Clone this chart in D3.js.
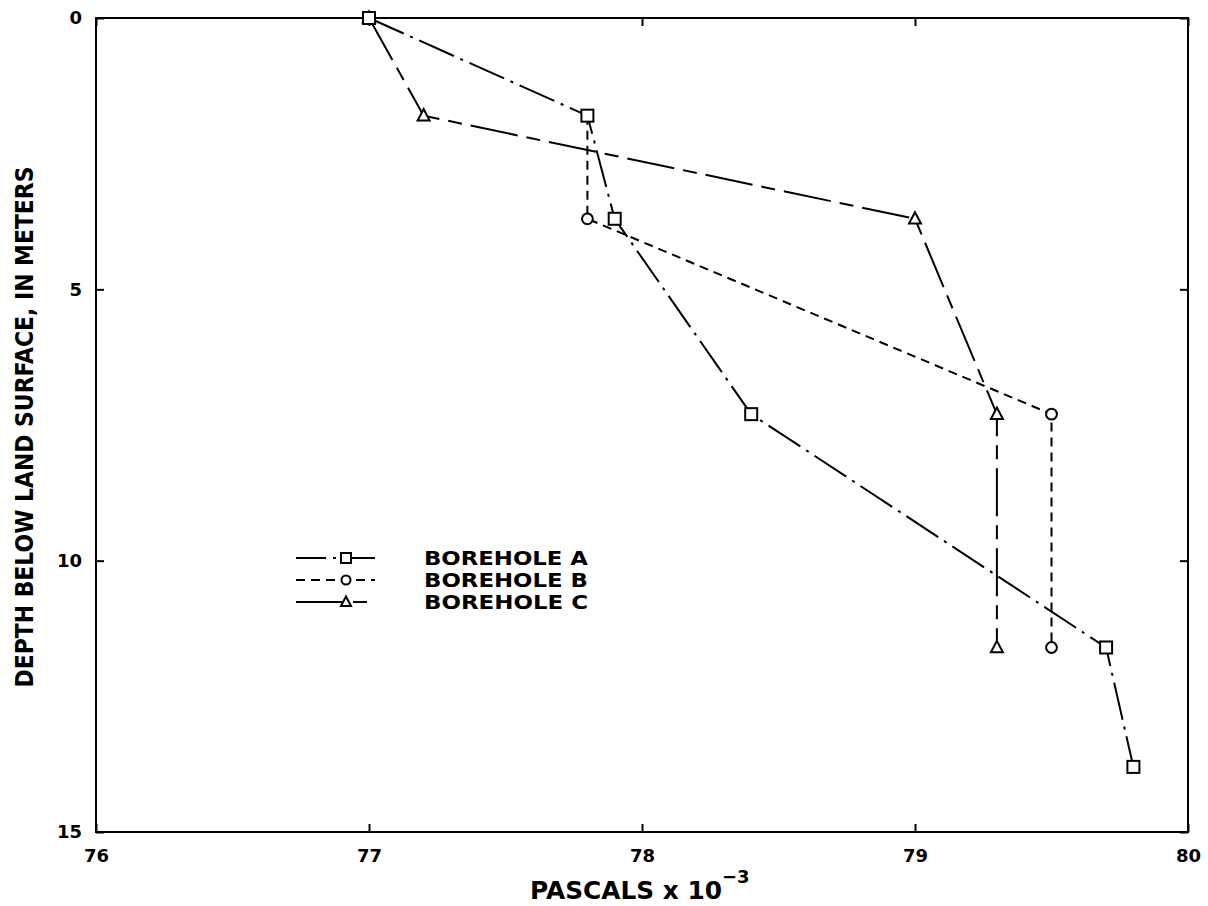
<!DOCTYPE html>
<html><head><meta charset="utf-8">
<script src="https://cdn.jsdelivr.net/npm/d3@7"></script>
<style>body{margin:0;background:#fff}</style>
</head><body>
<svg id="c" width="1208" height="906"></svg>
<script>
const xTicks = [76, 77, 78, 79, 80];
const yTicks = [0, 5, 10, 15];
const seriesNames = ["BOREHOLE A", "BOREHOLE B", "BOREHOLE C"];
const boreholeA_x = [77.0, 77.8, 77.9, 78.4, 79.7, 79.8];
const boreholeA_depth = [0, 1.8, 3.7, 7.3, 11.6, 13.8];
const boreholeB_x = [77.8, 77.8, 79.5, 79.5];
const boreholeB_depth = [1.8, 3.7, 7.3, 11.6];
const boreholeC_x = [77.0, 77.2, 79.0, 79.3, 79.3];
const boreholeC_depth = [0, 1.8, 3.7, 7.3, 11.6];

const svg = d3.select("#c");
const L = 96, R = 1188, T = 18, B = 832;
const x = d3.scaleLinear().domain([76, 80]).range([L, R]);
const y = d3.scaleLinear().domain([0, 15]).range([T, B]);
const font = "'DejaVu Sans','Liberation Sans',sans-serif";

const series = [
  {name: seriesNames[0], xs: boreholeA_x, ds: boreholeA_depth, dash: "38,7,3,7", marker: "square"},
  {name: seriesNames[1], xs: boreholeB_x, ds: boreholeB_depth, dash: "9,6", marker: "circle"},
  {name: seriesNames[2], xs: boreholeC_x, ds: boreholeC_depth, dash: "48,9,14,9", marker: "triangle"}
];

// frame
svg.append("rect").attr("x", L).attr("y", T).attr("width", R - L).attr("height", B - T)
  .attr("fill", "none").attr("stroke", "#000").attr("stroke-width", 2);

// axes with inward ticks
const gx = svg.append("g").attr("transform", `translate(0,${B})`)
  .call(d3.axisBottom(x).tickValues(xTicks).tickSize(-8).tickPadding(17).tickFormat(d3.format("d")));
const gxt = svg.append("g").attr("transform", `translate(0,${T})`)
  .call(d3.axisTop(x).tickValues(xTicks).tickSize(-8).tickFormat(""));
const gy = svg.append("g").attr("transform", `translate(${L},0)`)
  .call(d3.axisLeft(y).tickValues(yTicks).tickSize(-8).tickPadding(14).tickFormat(d3.format("d")));
const gyr = svg.append("g").attr("transform", `translate(${R},0)`)
  .call(d3.axisRight(y).tickValues(yTicks).tickSize(-8).tickFormat(""));
[gx, gxt, gy, gyr].forEach(g => {
  g.select(".domain").remove();
  g.selectAll(".tick line").attr("stroke", "#000").attr("stroke-width", 2);
  g.selectAll("text").attr("font-family", font).attr("font-weight", "bold")
    .attr("font-size", 18).attr("fill", "#000");
});

// lines
const line = d3.line().x(d => x(d[0])).y(d => y(d[1]));
series.forEach(s => {
  const pts = s.xs.map((v, i) => [v, s.ds[i]]);
  svg.append("path").datum(pts).attr("d", line).attr("fill", "none")
    .attr("stroke", "#000").attr("stroke-width", 2).attr("stroke-dasharray", s.dash);
});

function drawMarker(g, type, cx, cy, sz) {
  const h = sz / 2;
  if (type === "square") {
    g.append("rect").attr("x", cx - h).attr("y", cy - h).attr("width", sz).attr("height", sz)
      .attr("fill", "#fff").attr("stroke", "#000").attr("stroke-width", 2);
  } else if (type === "circle") {
    g.append("circle").attr("cx", cx).attr("cy", cy).attr("r", h * 0.9)
      .attr("fill", "#fff").attr("stroke", "#000").attr("stroke-width", 2);
  } else {
    g.append("path").attr("d", `M${cx},${cy - h * 1.1}L${cx + h},${cy + h * 0.8}L${cx - h},${cy + h * 0.8}Z`)
      .attr("fill", "#fff").attr("stroke", "#000").attr("stroke-width", 2);
  }
}
const mg = svg.append("g");
series.slice().reverse().forEach(s => {
  s.xs.forEach((v, i) => drawMarker(mg, s.marker, x(v), y(s.ds[i]), 12));
});

// legend
const lg = svg.append("g");
series.forEach((s, i) => {
  const ly = 558 + i * 22;
  lg.append("line").attr("x1", 296).attr("x2", 375).attr("y1", ly).attr("y2", ly)
    .attr("stroke", "#000").attr("stroke-width", 2).attr("stroke-dasharray", s.dash)
    .attr("stroke-dashoffset", i === 0 ? 8 : 0);
  drawMarker(lg, s.marker, 346, ly, 10);
  lg.append("text").attr("x", 424).attr("y", ly + 7).text(s.name)
    .attr("font-family", font).attr("font-weight", "bold").attr("font-size", 20)
    .attr("textLength", 164).attr("lengthAdjust", "spacingAndGlyphs");
});

// axis titles
svg.append("text").attr("transform", `translate(33,${(T + B) / 2 + 2}) rotate(-90)`)
  .attr("text-anchor", "middle").attr("font-family", font).attr("font-weight", "bold")
  .attr("font-size", 25).attr("textLength", 521).attr("lengthAdjust", "spacingAndGlyphs")
  .text("DEPTH BELOW LAND SURFACE, IN METERS");
const xt = svg.append("text").attr("x", 530).attr("y", 899)
  .attr("font-family", font).attr("font-weight", "bold").attr("font-size", 24);
xt.append("tspan").text("PASCALS x 10").attr("textLength", 192).attr("lengthAdjust", "spacingAndGlyphs");
xt.append("tspan").attr("dy", -16).attr("font-size", 18).text("−3");
</script>
</body></html>
